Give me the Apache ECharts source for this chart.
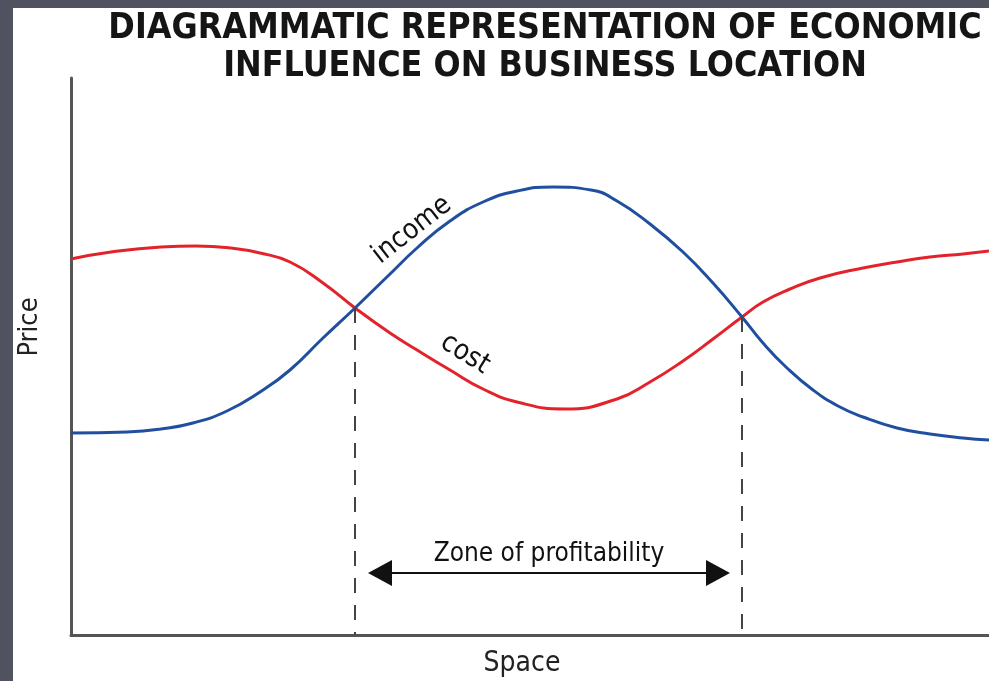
<!DOCTYPE html>
<html>
<head>
<meta charset="utf-8">
<script src="https://cdn.jsdelivr.net/npm/echarts@6/dist/echarts.min.js"></script>
<style>
    html, body { margin: 0; padding: 0; background: #50525f; }
    #paper { position: absolute; left: 13px; top: 8px; width: 976px; height: 673px; background: #fff; }
    #main { position: absolute; left: 0; top: 0; width: 989px; height: 681px; }
</style>
</head>
<body>
<div id="paper"></div>
<div id="main"></div>
<script>
// [space, price]
const costCurve = [
    [0, 376], [40, 383], [90, 388], [125, 389], [160, 387], [189, 382], [219, 373],
    [252, 352], [284, 327], [319, 302], [346, 285], [379, 265], [412, 246], [446, 233],
    [494, 226], [546, 236], [579, 253], [612, 274], [642, 296], [671, 318],
    [692, 333], [719, 346], [749, 357], [792, 367], [826, 373], [859, 378], [892, 381],
    [918, 384]
];
const incomeCurve = [
    [0, 202], [56, 203], [90, 206], [122, 212], [156, 224], [189, 243], [219, 265],
    [252, 297], [284, 327], [319, 361], [346, 387], [379, 414], [412, 433], [446, 444],
    [482, 448], [520, 445], [546, 434], [579, 411], [612, 383], [642, 352], [671, 318],
    [692, 292], [716, 267], [742, 245], [767, 229], [792, 218], [826, 207], [859, 201],
    [892, 197], [918, 195]
];
const boundaries = [[284, 327], [671, 318]];
const zoneArrow = [309, 647];
const zoneLevel = 62;

const narrow = "'Liberation Sans Narrow', 'DejaVu Sans Condensed', sans-serif";

const chart = echarts.init(document.getElementById('main'));

option = {
    animation: false,
    title: {
        text: 'DIAGRAMMATIC REPRESENTATION OF ECONOMIC\nINFLUENCE ON BUSINESS LOCATION',
        left: 540,
        top: 5,
        textAlign: 'center',
        textStyle: {
            fontFamily: narrow,
            fontWeight: 'bold',
            fontSize: 35.5,
            lineHeight: 38,
            color: '#151515'
        }
    },
    grid: {
        left: 71,
        right: 0,
        top: 78,
        bottom: 46,
        outerBoundsMode: 'none'
    },
    xAxis: {
        type: 'value',
        min: 0,
        max: 918,
        name: 'Space',
        nameLocation: 'middle',
        nameGap: 15,
        nameTextStyle: {
            fontFamily: narrow,
            fontSize: 28,
            color: '#222',
            verticalAlign: 'top',
            padding: [0, 16, 0, 0]
        },
        axisLine: { lineStyle: { color: '#555', width: 3 } },
        axisTick: { show: false },
        axisLabel: { show: false },
        splitLine: { show: false }
    },
    yAxis: {
        type: 'value',
        min: 0,
        max: 557,
        axisLine: { show: true, lineStyle: { color: '#555', width: 3 } },
        axisTick: { show: false },
        axisLabel: { show: false },
        splitLine: { show: false }
    },
    graphic: [{
        type: 'text',
        x: 30,
        y: 327,
        rotation: Math.PI / 2,
        style: {
            text: 'Price',
            fontFamily: narrow,
            fontSize: 27,
            fill: '#222',
            align: 'center',
            verticalAlign: 'middle'
        }
    }],
    series: [
        {
            name: 'cost',
            type: 'line',
            data: costCurve,
            smooth: 0.5,
            symbol: 'none',
            z: 3,
            lineStyle: { color: '#e3232b', width: 3 },
            markPoint: {
                symbol: 'circle',
                symbolSize: 1,
                itemStyle: { color: 'transparent' },
                label: {
                    show: true,
                    formatter: '{b}',
                    rotate: -32,
                    fontFamily: narrow,
                    fontSize: 28,
                    color: '#111'
                },
                data: [{ name: 'cost', coord: [394, 281] }]
            },
            markLine: {
                silent: true,
                symbol: ['none', 'none'],
                label: { show: false },
                lineStyle: { color: '#444', width: 2, type: [15, 12] },
                data: boundaries.map(b => [{ coord: [b[0], b[1]] }, { coord: [b[0], 0] }])
            }
        },
        {
            name: 'income',
            type: 'line',
            data: incomeCurve,
            smooth: 0.5,
            symbol: 'none',
            lineStyle: { color: '#1f4f9e', width: 3 },
            markPoint: {
                symbol: 'circle',
                symbolSize: 1,
                itemStyle: { color: 'transparent' },
                label: {
                    show: true,
                    formatter: '{b}',
                    rotate: 38,
                    fontFamily: narrow,
                    fontSize: 28,
                    color: '#111'
                },
                data: [{ name: 'income', coord: [341, 405] }]
            },
            markLine: {
                silent: true,
                symbol: ['triangle', 'triangle'],
                symbolSize: [26, 24],
                lineStyle: { color: '#111', width: 2, type: 'solid' },
                label: {
                    show: true,
                    position: 'middle',
                    formatter: 'Zone of profitability',
                    fontFamily: narrow,
                    fontSize: 26,
                    color: '#111',
                    distance: 6
                },
                itemStyle: { color: '#111' },
                data: [[{ coord: [zoneArrow[0], zoneLevel] }, { coord: [zoneArrow[1], zoneLevel] }]]
            }
        }
    ]
};

chart.setOption(option);
</script>
</body>
</html>
